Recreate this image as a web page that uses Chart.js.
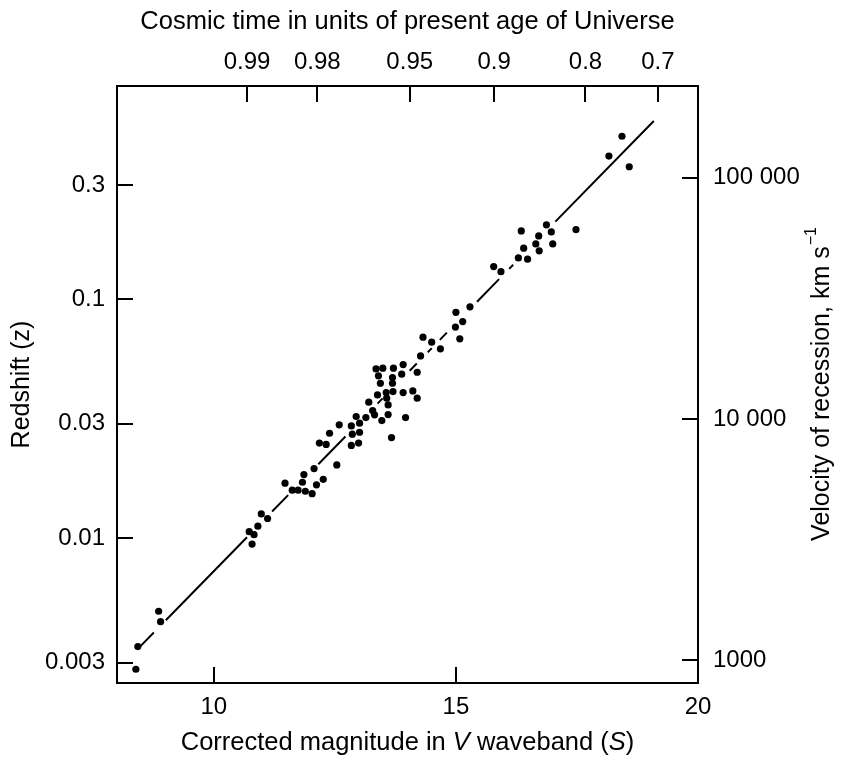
<!DOCTYPE html>
<html>
<head>
<meta charset="utf-8">
<script src="https://cdn.jsdelivr.net/npm/chart.js@4/dist/chart.umd.min.js"></script>
<style>
  html, body { margin: 0; padding: 0; background: #fff; }
  #c { display: block; }
</style>
</head>
<body>
<canvas id="c" width="841" height="761" style="width:841px;height:761px"></canvas>
<script>
// ---- data ----
const magnitude = [
  8.39, 8.43, 8.86, 8.90,
  10.79, 10.83, 10.73, 10.91, 10.98, 11.11,
  11.47, 11.62, 11.74, 11.89, 12.03, 11.83, 12.12, 11.86, 12.07, 12.26, 12.54,
  12.18, 12.32, 12.39, 12.59, 12.84, 12.99, 12.86, 13.01, 12.84, 12.94, 13.01, 13.14,
  13.28, 13.32, 13.47, 13.60, 13.67, 13.96, 13.20, 13.38, 13.56, 13.57, 13.60, 13.70,
  13.91, 14.11, 14.20, 13.44, 13.69, 13.40, 13.69, 13.88, 13.35, 13.49, 13.71, 13.91,
  14.20, 14.27, 14.32, 14.50, 14.68, 14.99, 15.14, 15.08, 15.00, 15.29,
  15.78, 15.93, 16.29, 16.48, 16.40, 16.35, 16.65, 16.71, 16.72, 16.87, 16.97, 17.00, 17.48,
  18.16, 18.43, 18.58
];
const redshift = [
  0.00282, 0.00351, 0.00493, 0.00446,
  0.00942, 0.01031, 0.01062, 0.01119, 0.01259, 0.01205,
  0.01694, 0.01584, 0.01584, 0.01567, 0.01531, 0.01709, 0.01667, 0.01841, 0.01950, 0.01758, 0.02019,
  0.02494, 0.02460, 0.02741, 0.02971, 0.02438, 0.02494, 0.02716, 0.02767, 0.02942, 0.03221, 0.03020, 0.03187,
  0.03409, 0.03273, 0.03097, 0.03282, 0.02628, 0.03187, 0.03698, 0.03966, 0.04055, 0.03843, 0.03601, 0.04094,
  0.04055, 0.04121, 0.03843, 0.04436, 0.04436, 0.04764, 0.04688, 0.04842, 0.05094, 0.05128, 0.05128, 0.05309,
  0.04932, 0.05775, 0.06918, 0.06592, 0.06180, 0.07620, 0.08036, 0.06810, 0.08790, 0.09265,
  0.1365, 0.1300, 0.1484, 0.1466, 0.1630, 0.1925, 0.1698, 0.1835, 0.1589, 0.2042, 0.1907, 0.1698, 0.1950,
  0.3959, 0.4795, 0.3573
];
// fitted line, drawn as broken segments (start/end of each visible piece)
const fitStartMag = [8.475, 9.008, 11.203, 12.158, 13.382, 14.046, 14.419, 14.668, 15.436, 16.100, 17.054];
const fitStartZ   = [0.003506, 0.004520, 0.012895, 0.020340, 0.036466, 0.050070, 0.059841, 0.067373, 0.097252, 0.133505, 0.210524];
const fitEndMag   = [8.761, 10.685, 11.535, 12.718, 13.485, 14.191, 14.502, 14.813, 15.892, 16.183, 19.087];
const fitEndZ     = [0.004020, 0.010067, 0.015101, 0.026566, 0.038343, 0.053670, 0.062245, 0.072277, 0.120952, 0.138891, 0.555];

const magTicks = [10, 15, 20];
const redshiftTicks = [0.003, 0.01, 0.03, 0.1, 0.3];
const redshiftTickLabels = ['0.003', '0.01', '0.03', '0.1', '0.3'];
const velocityTicks = [1000, 10000, 100000];
const velocityTickLabels = ['1000', '10 000', '100 000'];
const cosmicTimeMag = [10.685, 12.137, 14.046, 15.788, 17.676, 19.170];
const cosmicTimeLabels = ['0.99', '0.98', '0.95', '0.9', '0.8', '0.7'];

const MAG_MIN = 8, MAG_MAX = 20;
const Z_MIN = 0.00247, Z_MAX = 0.778;
const V_MIN = 805, V_MAX = 240100;

const TITLE_TOP = 'Cosmic time in units of present age of Universe';
const TITLE_LEFT = 'Redshift (z)';
const TITLE_BOTTOM = [['Corrected magnitude in ', false], ['V', true], [' waveband (', false], ['S', true], [')', false]];
const TITLE_RIGHT = 'Velocity of recession, km s';
const TITLE_RIGHT_SUP = '\u22121';

// ---- chart ----
const FONT = "'Liberation Sans', Arial, Helvetica, sans-serif";
const tickFont = { family: FONT, size: 24, lineHeight: 1 };
const TICK_LEN = 16;
const H_TITLE_SIZE = 25.5;
const V_TITLE_SIZE = 25;

const grid = {
  display: true, drawOnChartArea: false, drawTicks: true,
  tickLength: -TICK_LEN, tickWidth: 2, tickColor: '#000', color: '#000', lineWidth: 2
};
const border = { display: true, width: 2, color: '#000' };

const fitData = [];
for (let i = 0; i < fitStartMag.length; i++) {
  fitData.push({ x: fitStartMag[i], y: fitStartZ[i] });
  fitData.push({ x: fitEndMag[i], y: fitEndZ[i] });
  fitData.push({ x: fitEndMag[i], y: null });
}

const titlePlugin = {
  id: 'extraTitles',
  afterDraw(chart) {
    const ctx = chart.ctx;
    const a = chart.chartArea;
    ctx.save();
    ctx.fillStyle = '#000';
    ctx.textBaseline = 'middle';
    let size = H_TITLE_SIZE;
    let total = 0;
    const widths = TITLE_BOTTOM.map(([t, it]) => {
      ctx.font = (it ? 'italic ' : '') + size + 'px ' + FONT;
      const w = ctx.measureText(t).width; total += w; return w;
    });
    let x = (a.left + a.right) / 2 - total / 2;
    const yb = 743;
    ctx.textAlign = 'left';
    TITLE_BOTTOM.forEach(([t, it], i) => {
      ctx.font = (it ? 'italic ' : '') + size + 'px ' + FONT;
      ctx.fillText(t, x, yb);
      x += widths[i];
    });
    size = V_TITLE_SIZE;
    ctx.translate(822, (a.top + a.bottom) / 2);
    ctx.rotate(-Math.PI / 2);
    ctx.font = size + 'px ' + FONT;
    const wMain = ctx.measureText(TITLE_RIGHT).width;
    ctx.font = '16px ' + FONT;
    const wSup = ctx.measureText(TITLE_RIGHT_SUP).width;
    let xr = -(wMain + wSup) / 2;
    ctx.font = size + 'px ' + FONT;
    ctx.fillText(TITLE_RIGHT, xr, 0);
    ctx.font = '16px ' + FONT;
    ctx.fillText(TITLE_RIGHT_SUP, xr + wMain + 1, -10);
    ctx.restore();
  }
};

new Chart(document.getElementById('c'), {
  type: 'scatter',
  data: {
    datasets: [
      {
        type: 'scatter',
        data: magnitude.map((m, i) => ({ x: m, y: redshift[i] })),
        pointRadius: 3.6, pointHoverRadius: 3.6,
        backgroundColor: '#000', borderColor: '#000', borderWidth: 0,
        xAxisID: 'x', yAxisID: 'y'
      },
      {
        type: 'line',
        data: fitData,
        borderColor: '#000', borderWidth: 2, pointRadius: 0,
        spanGaps: false, fill: false, tension: 0, borderCapStyle: 'butt',
        xAxisID: 'x', yAxisID: 'y'
      }
    ]
  },
  options: {
    responsive: false,
    devicePixelRatio: 1,
    animation: false,
    layout: { padding: 0 },
    plugins: { legend: { display: false }, tooltip: { enabled: false } },
    scales: {
      x: {
        type: 'linear', position: 'bottom', min: MAG_MIN, max: MAG_MAX,
        afterBuildTicks: s => { s.ticks = magTicks.map(v => ({ value: v })); },
        afterFit: s => { s.height = 78; },
        ticks: { font: tickFont, color: '#000', padding: 12 + TICK_LEN, autoSkip: false, maxRotation: 0, callback: v => String(v) },
        grid, border
      },
      x2: {
        type: 'linear', position: 'top', min: MAG_MIN, max: MAG_MAX,
        afterBuildTicks: s => { s.ticks = cosmicTimeMag.map(v => ({ value: v })); },
        afterFit: s => { s.height = 86; },
        ticks: { font: tickFont, color: '#000', padding: 12 + TICK_LEN, autoSkip: false, maxRotation: 0, callback: (v, i) => cosmicTimeLabels[i] },
        grid, border,
        title: { display: true, text: TITLE_TOP, color: '#000', font: { family: FONT, size: H_TITLE_SIZE, lineHeight: 1 }, padding: { top: 9, bottom: 0 } }
      },
      y: {
        type: 'logarithmic', position: 'left', min: Z_MIN, max: Z_MAX,
        afterBuildTicks: s => { s.ticks = redshiftTicks.map(v => ({ value: v })); },
        afterFit: s => { s.width = 117; },
        ticks: { font: tickFont, color: '#000', padding: 12 + TICK_LEN, autoSkip: false, callback: (v, i) => redshiftTickLabels[i] },
        grid, border,
        title: { display: true, text: TITLE_LEFT, color: '#000', font: { family: FONT, size: V_TITLE_SIZE, lineHeight: 1 }, padding: { top: 10, bottom: 0 } }
      },
      y2: {
        type: 'logarithmic', position: 'right', min: V_MIN, max: V_MAX,
        afterBuildTicks: s => { s.ticks = velocityTicks.map(v => ({ value: v })); },
        afterFit: s => { s.width = 143; },
        ticks: { font: tickFont, color: '#000', padding: 15 + TICK_LEN, autoSkip: false, callback: (v, i) => velocityTickLabels[i] },
        grid, border
      }
    }
  },
  plugins: [titlePlugin]
});
</script>
</body>
</html>
